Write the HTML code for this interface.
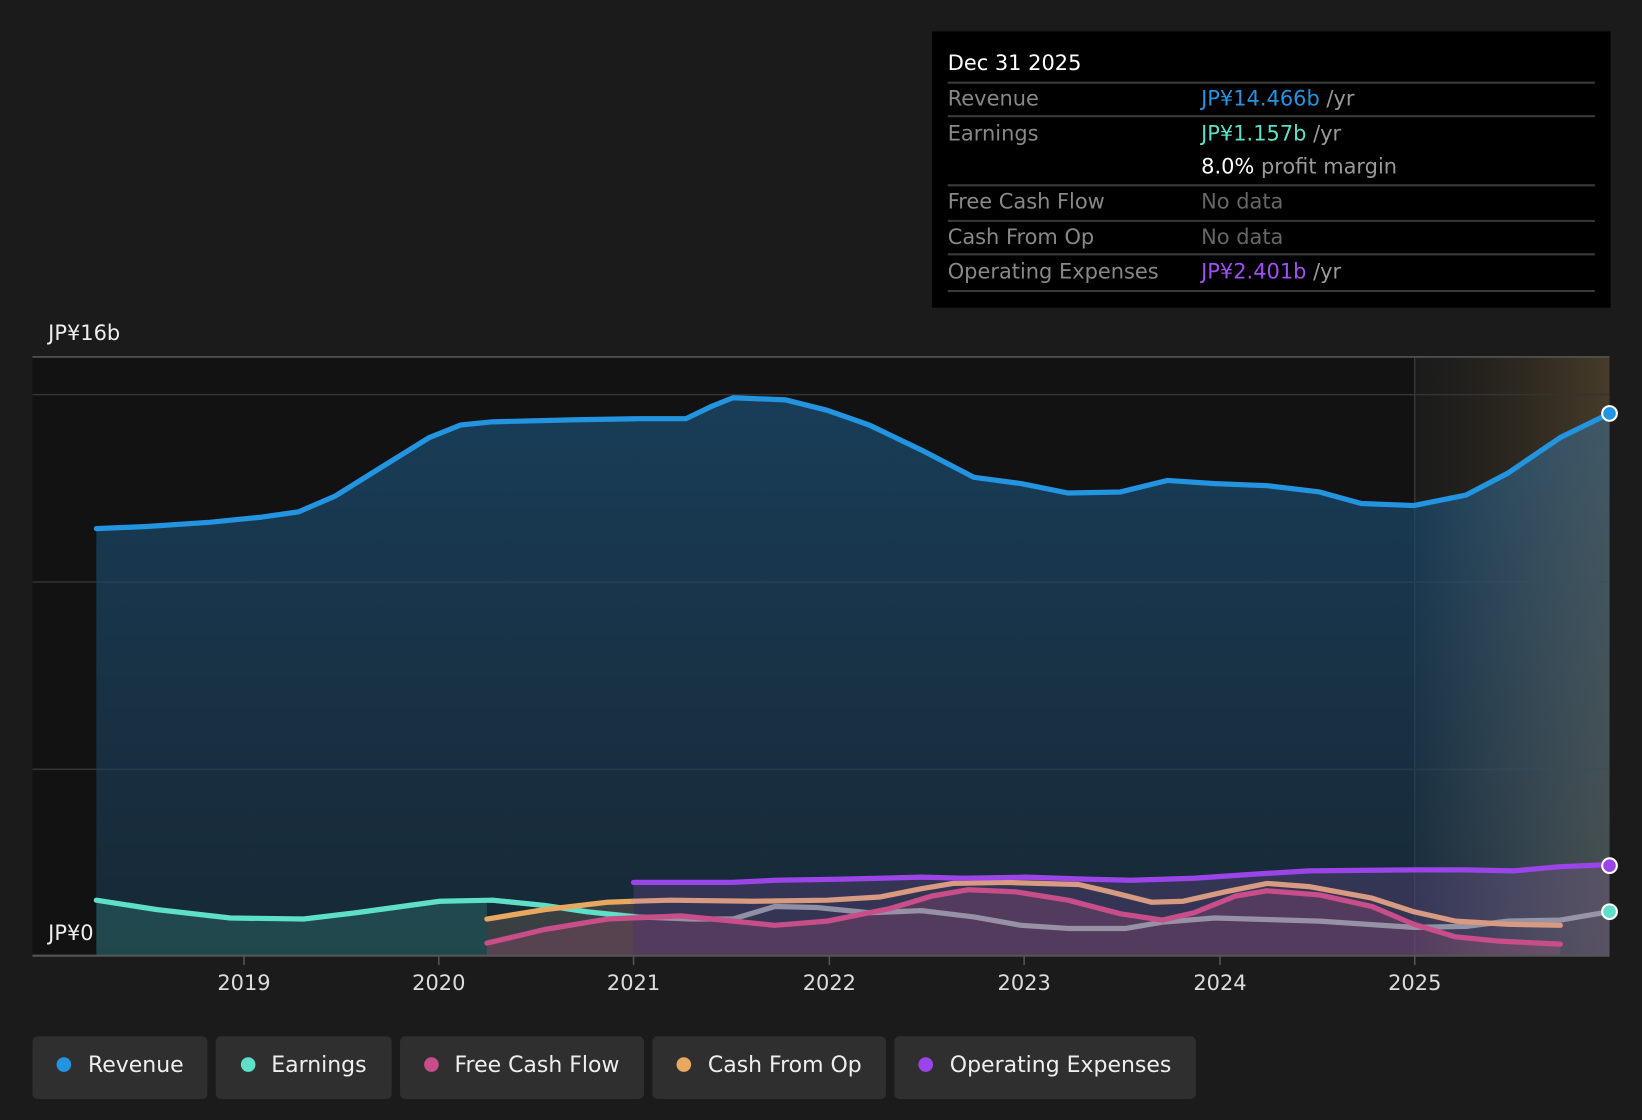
<!DOCTYPE html>
<html><head><meta charset="utf-8"><style>
html,body{margin:0;padding:0;background:#1b1b1b;width:1642px;height:1120px;overflow:hidden}
svg{display:block}
text{font-family:"DejaVu Sans","Liberation Sans",sans-serif}
</style></head><body>
<svg width="1642" height="1120" viewBox="0 0 1568 1070" preserveAspectRatio="none" xmlns="http://www.w3.org/2000/svg">
<defs>
<linearGradient id="rev" x1="0" y1="0" x2="0" y2="1"><stop offset="0" stop-color="#1b4c70" stop-opacity="0.75"/><stop offset="1" stop-color="#1b3a52" stop-opacity="0.55"/></linearGradient>
<linearGradient id="fut" x1="0" y1="0" x2="1" y2="0"><stop offset="0" stop-color="#3a3020" stop-opacity="0"/><stop offset="1" stop-color="#5a4a30" stop-opacity="0.7"/></linearGradient>
<linearGradient id="fut2" x1="0" y1="0" x2="1" y2="0"><stop offset="0" stop-color="#ffffff" stop-opacity="0"/><stop offset="1" stop-color="#c8b090" stop-opacity="0.16"/></linearGradient>
</defs>
<rect width="1568" height="1070" fill="#1b1b1b"/>
<rect x="31" y="341" width="1320" height="572" fill="#121212"/>
<rect x="1351" y="341" width="186" height="572" fill="url(#fut)"/>
<line x1="1351" y1="341" x2="1351" y2="913" stroke="#444" stroke-width="1"/>
<g stroke="#333" stroke-width="1.5"><line x1="31" y1="377" x2="1537" y2="377"/><line x1="31" y1="556" x2="1537" y2="556"/><line x1="31" y1="735" x2="1537" y2="735"/></g>
<line x1="31" y1="341" x2="1537" y2="341" stroke="#555" stroke-width="1.5"/>
<polygon fill="url(#rev)" points="92,913 92,505 140,503 200,499 250,494 285,489 320,474 360,449 410,418 440,406 470,403 550,401 610,400 655,400 680,388 700,380 750,382 790,392 830,406 880,430 930,456 975,462 1020,471 1070,470 1115,459 1160,462 1210,464 1260,470 1300,481 1350,483 1400,473 1440,452 1490,418 1537,395 1537,913"/>
<polygon fill="#3aa894" fill-opacity="0.25" points="92,913 92,860 150,869 220,877 290,878 340,872 420,861 465,860 465,913"/>
<polygon fill="#7a6a5a" fill-opacity="0.35" points="465,913 465,878 520,869 580,862 605,861 605,913"/>
<polygon fill="#6a4a8a" fill-opacity="0.35" points="605,913 605,843 700,843 740,841 800,840 880,838 920,839 980,838 1040,840 1080,841 1140,839 1200,835 1250,832 1350,831 1400,831 1445,832 1490,828 1537,826 1537,913"/>
<polygon fill="#b0507a" fill-opacity="0.25" points="465,913 465,901 520,888 580,878 650,875 700,880 740,884 790,880 850,868 890,856 925,850 970,852 1020,860 1070,873 1110,879 1140,872 1180,856 1210,851 1260,855 1310,866 1350,883 1390,895 1430,899 1490,902 1490,913"/>
<polygon fill="url(#fut2)" points="1351,913 1351,483 1400,473 1440,452 1490,418 1537,395 1537,913"/>
<g fill="none" stroke-width="5" stroke-linejoin="round" stroke-linecap="round">
<polyline stroke="#a8a8b8" stroke-opacity="0.8" points="470,860 520,865 560,871 610,876 660,878 700,878 740,866 780,867 830,872 880,870 930,876 975,884 1020,887 1075,887 1110,881 1160,877 1260,880 1350,886 1400,885 1440,880 1490,879 1537,871"/>
<polyline stroke="#5ee0c8" points="92,860 150,869 220,877 290,878 340,872 420,861 470,860 520,865 560,871 605,876"/>
<polyline stroke="#e8a860" points="465,878 520,869 580,862 605,861"/>
<polyline stroke="#d89a80" points="605,861 640,860 720,861 790,860 840,857 880,849 910,844 960,843 1030,845 1060,852 1100,862 1130,861 1170,852 1210,844 1250,847 1310,858 1350,871 1390,880 1440,883 1490,884"/>
<polyline stroke="#c84e8a" points="465,901 520,888 580,878 650,875 700,880 740,884 790,880 850,868 890,856 925,850 970,852 1020,860 1070,873 1110,879 1140,872 1180,856 1210,851 1260,855 1310,866 1350,883 1390,895 1430,899 1490,902"/>
<polyline stroke="#9b45e8" points="605,843 700,843 740,841 800,840 880,838 920,839 980,838 1040,840 1080,841 1140,839 1200,835 1250,832 1350,831 1400,831 1445,832 1490,828 1537,826"/>
<polyline stroke="#2394e0" points="92,505 140,503 200,499 250,494 285,489 320,474 360,449 410,418 440,406 470,403 550,401 610,400 655,400 680,388 700,380 750,382 790,392 830,406 880,430 930,456 975,462 1020,471 1070,470 1115,459 1160,462 1210,464 1260,470 1300,481 1350,483 1400,473 1440,452 1490,418 1537,395"/>
</g>
<circle cx="1537" cy="395" r="7" fill="#2394e0" stroke="#fff" stroke-width="2"/>
<circle cx="1537" cy="827" r="7" fill="#9b45e8" stroke="#fff" stroke-width="2"/>
<circle cx="1537" cy="871" r="7" fill="#5ee0c8" stroke="#fff" stroke-width="2"/>
<line x1="31" y1="913" x2="1537" y2="913" stroke="#555" stroke-width="2"/>
<g stroke="#555" stroke-width="1.5"><line x1="233" y1="913" x2="233" y2="922"/><line x1="419" y1="913" x2="419" y2="922"/><line x1="605" y1="913" x2="605" y2="922"/><line x1="792" y1="913" x2="792" y2="922"/><line x1="978" y1="913" x2="978" y2="922"/><line x1="1165" y1="913" x2="1165" y2="922"/><line x1="1351" y1="913" x2="1351" y2="922"/></g>
<g fill="#ddd" font-size="20" text-anchor="middle"><text x="233" y="946">2019</text><text x="419" y="946">2020</text><text x="605" y="946">2021</text><text x="792" y="946">2022</text><text x="978" y="946">2023</text><text x="1165" y="946">2024</text><text x="1351" y="946">2025</text></g>
<text x="46" y="325" fill="#eee" font-size="20">JP¥16b</text>
<text x="46" y="898" fill="#eee" font-size="20">JP¥0</text>
<rect x="890" y="30" width="648" height="264" fill="#000"/>
<g stroke="#3a3a3a" stroke-width="2"><line x1="905" y1="79" x2="1523" y2="79"/><line x1="905" y1="111" x2="1523" y2="111"/><line x1="905" y1="177" x2="1523" y2="177"/><line x1="905" y1="211" x2="1523" y2="211"/><line x1="905" y1="243" x2="1523" y2="243"/><line x1="905" y1="278" x2="1523" y2="278"/></g>
<g font-size="20">
<text x="905" y="67" fill="#fff">Dec 31 2025</text>
<text x="905" y="101" fill="#888">Revenue</text>
<text x="1147" y="101" fill="#2394e0">JP¥14.466b <tspan fill="#999">/yr</tspan></text>
<text x="905" y="134" fill="#888">Earnings</text>
<text x="1147" y="134" fill="#5ee0c8">JP¥1.157b <tspan fill="#999">/yr</tspan></text>
<text x="1147" y="166" fill="#fff">8.0% <tspan fill="#999">profit margin</tspan></text>
<text x="905" y="199" fill="#888">Free Cash Flow</text>
<text x="1147" y="199" fill="#666">No data</text>
<text x="905" y="233" fill="#888">Cash From Op</text>
<text x="1147" y="233" fill="#666">No data</text>
<text x="905" y="266" fill="#888">Operating Expenses</text>
<text x="1147" y="266" fill="#a050f0">JP¥2.401b <tspan fill="#999">/yr</tspan></text>
</g>
<g fill="#2f2f2f"><rect x="31" y="990" width="167" height="60" rx="5"/><rect x="206" y="990" width="168" height="60" rx="5"/><rect x="382" y="990" width="233" height="60" rx="5"/><rect x="623" y="990" width="223" height="60" rx="5"/><rect x="854" y="990" width="288" height="60" rx="5"/></g>
<circle cx="61" cy="1017" r="7" fill="#2394e0"/><circle cx="237" cy="1017" r="7" fill="#5ee0c8"/><circle cx="412" cy="1017" r="7" fill="#c84e8a"/><circle cx="653" cy="1017" r="7" fill="#e8a860"/><circle cx="884" cy="1017" r="7" fill="#9b45e8"/>
<g fill="#eee" font-size="21"><text x="84" y="1024">Revenue</text><text x="259" y="1024">Earnings</text><text x="434" y="1024">Free Cash Flow</text><text x="676" y="1024">Cash From Op</text><text x="907" y="1024">Operating Expenses</text></g>
</svg>
</body></html>
